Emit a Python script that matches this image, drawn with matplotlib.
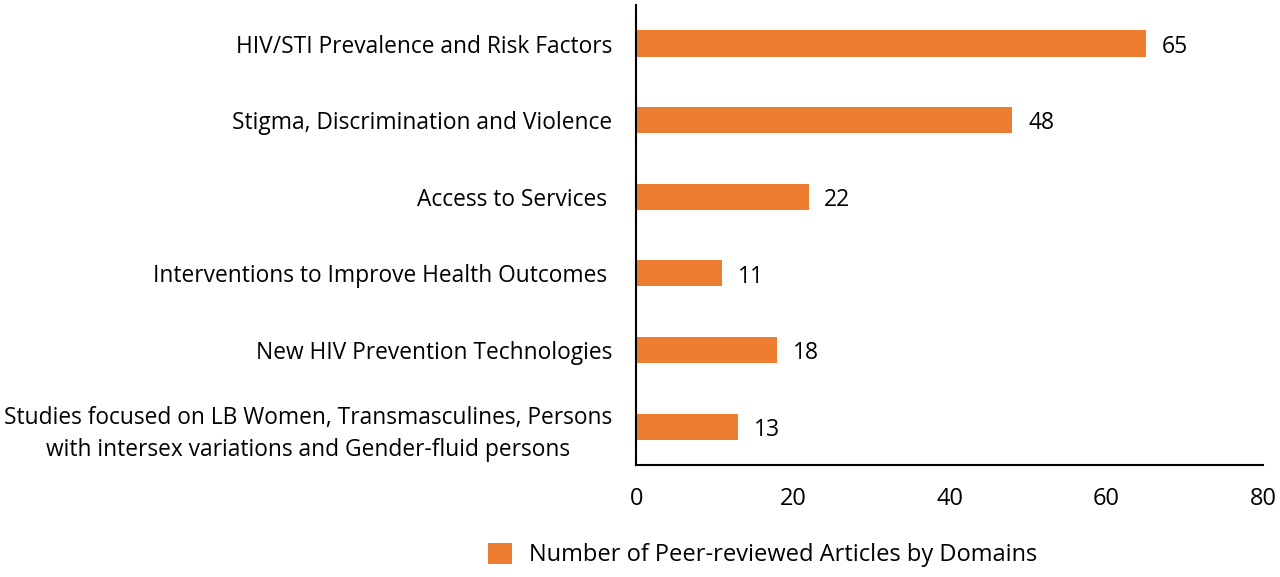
import matplotlib.pyplot as plt

# Data
domains = [
    "HIV/STI Prevalence and Risk Factors",
    "Stigma, Discrimination and Violence",
    "Access to Services ",
    "Interventions to Improve Health Outcomes ",
    "New HIV Prevention Technologies",
    "Studies focused on LB Women, Transmasculines, Persons\nwith intersex variations and Gender-fluid persons",
]
articles = [65, 48, 22, 11, 18, 13]
x_ticks = [0, 20, 40, 60, 80]
series_name = "Number of Peer-reviewed Articles by Domains"

plt.rcParams['font.family'] = ['Open Sans', 'DejaVu Sans']
bar_color = '#ED7D31'

fig = plt.figure(figsize=(12.8, 5.77), dpi=100)
ax = fig.add_axes([0.497, 0.194, 0.490, 0.797])

y_pos = list(range(len(domains)))
bars = ax.barh(y_pos, articles, height=0.34, color=bar_color, label=series_name)
ax.set_ylim(len(domains) - 0.5, -0.5)
ax.set_xlim(0, 80)
ax.set_xticks(x_ticks)
ax.set_yticks(y_pos)
ax.set_yticklabels(domains, fontsize=16.4, multialignment='center', linespacing=1.45)
ax.tick_params(axis='y', length=0, pad=17)
ax.tick_params(axis='x', length=0, pad=16, labelsize=17)

# value labels next to each bar
for y, v in zip(y_pos, articles):
    ax.text(v + 2.0, y + 0.04, str(v), va='center', ha='left', fontsize=16.5)

ax.spines['top'].set_visible(False)
ax.spines['right'].set_visible(False)
ax.spines['left'].set_linewidth(1.5)
ax.spines['bottom'].set_linewidth(1.5)

fig.legend(handles=[bars], labels=[series_name], loc='center',
           bbox_to_anchor=(0.596, 0.038), frameon=False, fontsize=17,
           handlelength=1.0, handleheight=1.0, handletextpad=0.75)

fig.savefig('out.png', dpi=100)
